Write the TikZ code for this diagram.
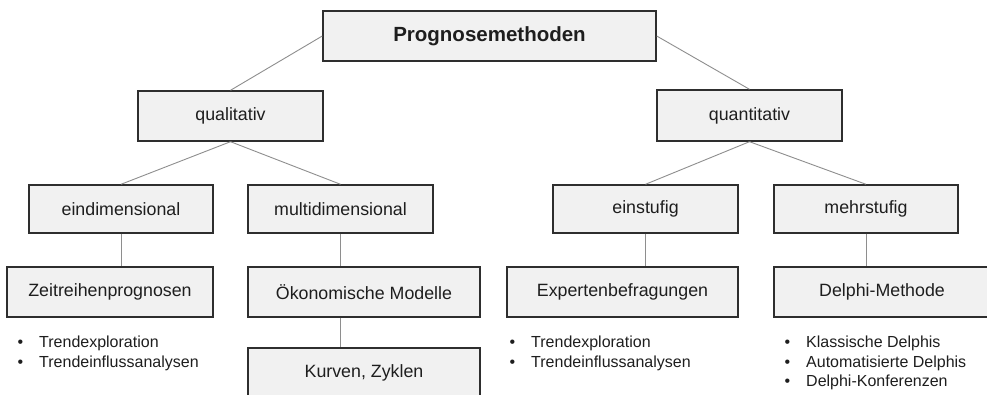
\documentclass[tikz,border=0pt]{standalone}
\usepackage{fontspec}
\setmainfont{Liberation Sans}
\definecolor{boxfill}{HTML}{F1F1F1}
\definecolor{boxline}{HTML}{2E2E2E}
\definecolor{conn}{HTML}{8E8E8E}
\definecolor{txt}{HTML}{1E1E1E}
\begin{document}
\begin{tikzpicture}[x=1pt,y=-1pt,
  box/.style={draw=boxline,line width=1.4pt,fill=boxfill,inner sep=0pt,text=txt,
    font=\fontsize{17.8}{20}\selectfont},
  topbox/.style={box,font=\fontsize{20.5}{24}\selectfont\bfseries},
  conline/.style={draw=conn,line width=0.9pt},
  listitem/.style={anchor=base west,inner sep=0pt,text=txt,font=\fontsize{16}{19}\selectfont}]
\clip (0,0) rectangle (987,395);
\fill[white] (0,0) rectangle (987,395);
% nodes
\node[topbox,minimum width=333pt,minimum height=50pt] (top) at (489.5,36) {Prognosemethoden};
\node[box,minimum width=185pt,minimum height=50pt] (qual) at (230.5,116) {qualitativ};
\node[box,minimum width=185pt,minimum height=51pt] (quant) at (749.5,115.5) {quantitativ};
\node[box,minimum width=184pt,minimum height=48pt] (eind) at (121,209) {eindimensional};
\node[box,minimum width=185pt,minimum height=48pt] (multi) at (340.5,209) {multidimensional};
\node[box,minimum width=185pt,minimum height=48pt] (ein) at (645.5,209) {einstufig};
\node[box,minimum width=184pt,minimum height=48pt] (mehr) at (866,209) {mehrstufig};
\node[box,minimum width=206pt,minimum height=50pt] (zeit) at (110,292) {Zeitreihenprognosen};
\node[box,minimum width=232pt,minimum height=50pt] (oek) at (364,292) {Ökonomische Modelle};
\node[box,minimum width=231pt,minimum height=50pt] (exp) at (622.5,292) {Expertenbefragungen};
\node[box,minimum width=216pt,minimum height=50pt] (delphi) at (882,292) {Delphi-Methode};
\node[box,minimum width=232pt,minimum height=50pt] (kurv) at (364,373) {Kurven, Zyklen};
% connectors
\draw[conline] (top.west) -- (qual.north);
\draw[conline] (top.east) -- (quant.north);
\draw[conline] (qual.south) -- (eind.north);
\draw[conline] (qual.south) -- (multi.north);
\draw[conline] (quant.south) -- (ein.north);
\draw[conline] (quant.south) -- (mehr.north);
\draw[conline] (eind.south) -- (eind.south |- zeit.north);
\draw[conline] (multi.south) -- (multi.south |- oek.north);
\draw[conline] (multi.south |- oek.south) -- (multi.south |- kurv.north);
\draw[conline] (ein.south) -- (ein.south |- exp.north);
\draw[conline] (mehr.south) -- (mehr.south |- delphi.north);
% lists
\node[listitem] (za) at (17.5,347.5) {\makebox[21.5pt][l]{\textbullet}Trendexploration};
\node[listitem] (zb) at (17.5,367) {\makebox[21.5pt][l]{\textbullet}Trendeinflussanalysen};
\node[listitem] (ea) at (509.5,347.5) {\makebox[21.5pt][l]{\textbullet}Trendexploration};
\node[listitem] (eb) at (509.5,367) {\makebox[21.5pt][l]{\textbullet}Trendeinflussanalysen};
\node[listitem] (da) at (784.5,347.5) {\makebox[21.5pt][l]{\textbullet}Klassische Delphis};
\node[listitem] (db) at (784.5,367) {\makebox[21.5pt][l]{\textbullet}Automatisierte Delphis};
\node[listitem] (dc) at (784.5,386.5) {\makebox[21.5pt][l]{\textbullet}Delphi-Konferenzen};
\end{tikzpicture}
\end{document}
